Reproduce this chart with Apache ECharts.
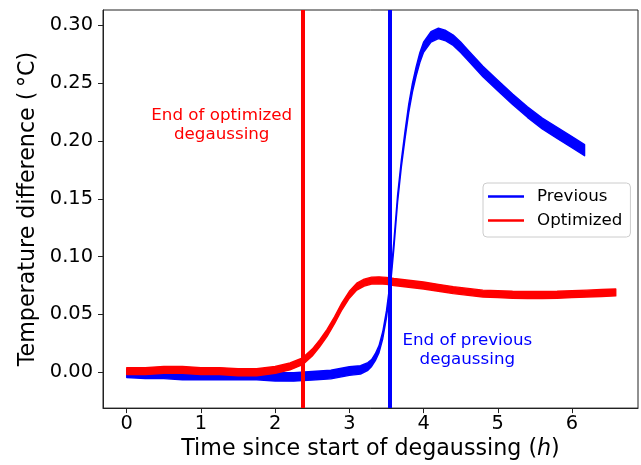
<!DOCTYPE html>
<html>
<head>
<meta charset="utf-8">
<script src="https://cdn.jsdelivr.net/npm/echarts@6/dist/echarts.min.js"></script>
<style>
html,body{margin:0;padding:0;background:#fff;}
#chart{width:641px;height:465px;}
</style>
</head>
<body>
<div id="chart"></div>
<script>
// ---- data ----
const prevTime   = [0, 0.25, 0.5, 0.75, 1.0, 1.25, 1.5, 1.75, 2.0, 2.25, 2.5, 2.75, 3.0, 3.15, 3.25, 3.3, 3.35, 3.4, 3.45, 3.5, 3.55, 3.6, 3.65, 3.7, 3.75, 3.8, 3.85, 3.9, 3.95, 4.0, 4.1, 4.2, 4.3, 4.4, 4.5, 4.6, 4.8, 5.0, 5.2, 5.4, 5.6, 5.8, 6.0, 6.17];
const prevValue  = [-0.001, -0.002, -0.002, -0.003, -0.003, -0.003, -0.003, -0.003, -0.004, -0.004, -0.003, -0.002, 0.001, 0.002, 0.005, 0.008, 0.013, 0.02, 0.032, 0.05, 0.075, 0.11, 0.15, 0.18, 0.205, 0.228, 0.246, 0.26, 0.272, 0.281, 0.29, 0.293, 0.291, 0.287, 0.281, 0.274, 0.26, 0.248, 0.236, 0.225, 0.215, 0.207, 0.199, 0.192];
const prevSpread = [0.0035, 0.0035, 0.0035, 0.0035, 0.0035, 0.0035, 0.0035, 0.0035, 0.0036, 0.0037, 0.0037, 0.0037, 0.0037, 0.0036, 0.0033, 0.003, 0.003, 0.003, 0.003, 0.003, 0.003, 0.003, 0.003, 0.003, 0.0033, 0.0036, 0.0038, 0.004, 0.0042, 0.0043, 0.0045, 0.0045, 0.0045, 0.0045, 0.0045, 0.0045, 0.0045, 0.0045, 0.0045, 0.0046, 0.0047, 0.0048, 0.0048, 0.0048];

const optTime    = [0, 0.25, 0.5, 0.75, 1.0, 1.25, 1.5, 1.75, 2.0, 2.2, 2.37, 2.5, 2.6, 2.7, 2.8, 2.9, 3.0, 3.1, 3.2, 3.3, 3.4, 3.5, 3.6, 3.8, 4.0, 4.2, 4.4, 4.6, 4.8, 5.0, 5.2, 5.4, 5.6, 5.8, 6.0, 6.2, 6.4, 6.59];
const optValue   = [0.001, 0.001, 0.002, 0.002, 0.001, 0.001, 0.0, 0.0, 0.002, 0.005, 0.0095, 0.017, 0.025, 0.034, 0.045, 0.057, 0.067, 0.074, 0.0775, 0.0792, 0.0795, 0.079, 0.078, 0.0765, 0.075, 0.073, 0.071, 0.0695, 0.068, 0.0675, 0.067, 0.0668, 0.0668, 0.067, 0.0675, 0.068, 0.0685, 0.069];
const optSpread  = [0.003, 0.003, 0.003, 0.003, 0.003, 0.003, 0.003, 0.003, 0.003, 0.003, 0.003, 0.003, 0.003, 0.003, 0.003, 0.003, 0.003, 0.003, 0.003, 0.003, 0.003, 0.003, 0.003, 0.003, 0.003, 0.003, 0.003, 0.003, 0.003, 0.003, 0.003, 0.003, 0.003, 0.003, 0.003, 0.003, 0.003, 0.003];

const xTicks = [0, 1, 2, 3, 4, 5, 6];
const yTicks = [0.00, 0.05, 0.10, 0.15, 0.20, 0.25, 0.30];

const endOptimized = 2.37;
const endPrevious = 3.54;

const noteOptimized = {text: 'End of optimized\ndegaussing', at: [1.28, 0.2134]};
const notePrevious  = {text: 'End of previous\ndegaussing',  at: [4.59, 0.019]};

// ---- chart ----
const FONT = 'DejaVu Sans';
const BLUE = '#0000ff';
const RED = '#ff0000';

// rows: [time, lower edge, upper edge] of the noisy trace
function bandRows(t, v, s) { return t.map((x, i) => [x, v[i] - s[i], v[i] + s[i]]); }

function bandSeries(name, rows, color, z) {
  return {
    name: name, type: 'custom', z: z, silent: true,
    itemStyle: {color: color},
    encode: {x: 0, y: [1, 2]},
    data: rows,
    renderItem: function (params, api) {
      if (params.dataIndexInside !== 0) return null;
      const upper = rows.map(r => api.coord([r[0], r[2]]));
      const lower = rows.map(r => api.coord([r[0], r[1]])).reverse();
      return {
        type: 'polygon',
        shape: {points: upper.concat(lower), smooth: 0},
        style: {fill: color, stroke: color, lineWidth: 1.4, lineJoin: 'round'},
        clipPath: {type: 'rect', shape: {x: params.coordSys.x, y: params.coordSys.y, width: params.coordSys.width, height: params.coordSys.height}}
      };
    }
  };
}

function noteSeries(note, color) {
  return {
    type: 'scatter', symbolSize: 0, silent: true, z: 5,
    itemStyle: {color: color, opacity: 1},
    data: [{value: note.at, name: note.text}],
    label: {show: true, position: 'inside', formatter: p => p.name, fontFamily: FONT, fontSize: 16.7, lineHeight: 19,
            align: 'center', verticalAlign: 'middle', color: color, textBorderWidth: 0, opacity: 1}
  };
}

const chart = echarts.init(document.getElementById('chart'), null, {renderer: 'canvas'});

const option = {
  animation: false,
  textStyle: {fontFamily: FONT},
  grid: {left: 103, right: 3, top: 10, bottom: 55, show: true, borderColor: '#222', borderWidth: 1, backgroundColor: 'transparent'},
  legend: {
    orient: 'vertical',
    left: 483, top: 183,
    data: ['Previous', 'Optimized'],
    icon: 'rect',
    itemWidth: 36, itemHeight: 2.5,
    itemGap: 7,
    padding: [5, 8, 8, 5],
    borderColor: '#cccccc', borderWidth: 1, borderRadius: 4,
    backgroundColor: 'rgba(255,255,255,0.8)',
    textStyle: {fontFamily: FONT, fontSize: 16.7, color: '#000', lineHeight: 17, padding: [0, 0, 0, 8]},
    selectedMode: false
  },
  xAxis: {
    type: 'value', min: -0.32, max: 6.89,
    name: 'Time since start of degaussing ({it|h})',
    nameLocation: 'middle', nameGap: 23,
    nameTextStyle: {fontFamily: FONT, fontSize: 22.2, color: '#000', rich: {it: {fontFamily: FONT, fontSize: 22.2, fontStyle: 'italic', color: '#000'}}},
    splitLine: {show: false},
    axisLine: {show: true, onZero: false, lineStyle: {color: '#222', width: 1}},
    axisTick: {show: true, length: 5, lineStyle: {color: '#222', width: 1}, customValues: xTicks},
    axisLabel: {fontFamily: FONT, fontSize: 19.4, color: '#000', margin: 6, customValues: xTicks, formatter: v => String(v)}
  },
  yAxis: {
    type: 'value', min: -0.031, max: 0.3132,
    name: 'Temperature difference (\u2009°C)',
    nameLocation: 'middle', nameGap: 63,
    nameTextStyle: {fontFamily: FONT, fontSize: 22.2, color: '#000'},
    splitLine: {show: false},
    axisLine: {show: true, onZero: false, lineStyle: {color: '#222', width: 1}},
    axisTick: {show: true, length: 5, lineStyle: {color: '#222', width: 1}, customValues: yTicks},
    axisLabel: {fontFamily: FONT, fontSize: 19.4, color: '#000', margin: 10, customValues: yTicks, formatter: v => v.toFixed(2)}
  },
  series: [
    bandSeries('Previous', bandRows(prevTime, prevValue, prevSpread), BLUE, 2),
    bandSeries('Optimized', bandRows(optTime, optValue, optSpread), RED, 3),
    noteSeries(noteOptimized, RED),
    noteSeries(notePrevious, BLUE),
    {name: 'vlines', type: 'line', data: [], silent: true, z: 6,
     markLine: {symbol: 'none', silent: true, animation: false, label: {show: false},
       data: [
         {xAxis: endOptimized, lineStyle: {color: RED, width: 4, type: 'solid'}},
         {xAxis: endPrevious, lineStyle: {color: BLUE, width: 4, type: 'solid'}}
       ]}}
  ]
};
chart.setOption(option);
</script>
</body>
</html>
